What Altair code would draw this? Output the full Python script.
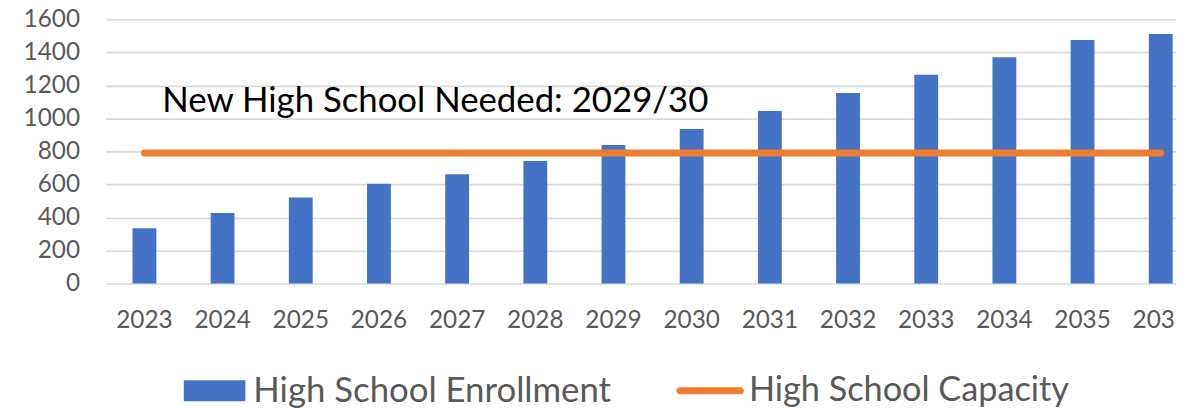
import altair as alt
import pandas as pd

years = ["2023", "2024", "2025", "2026", "2027", "2028", "2029",
         "2030", "2031", "2032", "2033", "2034", "2035", "2036"]
enrollment = [335, 427, 521, 604, 662, 742, 839, 935, 1045, 1154, 1264, 1370, 1475, 1511]
capacity = [790, 790, 790, 790, 790, 790, 790, 790, 790, 790, 790, 790, 790, 790]
y_ticks = [0, 200, 400, 600, 800, 1000, 1200, 1400, 1600]

series_names = ["High School Enrollment", "High School Capacity"]
series_colors = ["#4472C4", "#ED7D31"]

annotation_text = ["New High School Needed: 2029/30"]
annotation_year = ["2023"]
annotation_value = [1036]

df = pd.DataFrame({"year": years, "enrollment": enrollment, "capacity": capacity})
ann = pd.DataFrame({"year": annotation_year, "value": annotation_value, "label": annotation_text})

FONT = "Lato"
GREY = "#595959"

x_scale = alt.Scale(range=[0, 1102], paddingInner=0, paddingOuter=0)
x_axis = alt.Axis(title=None, labelAngle=0, labelFont=FONT, labelFontSize=24.5,
                  labelColor=GREY, labelPadding=25, ticks=False, domain=False,
                  grid=False, labelOverlap=False)
x_enc = alt.X("year:O", sort=years, scale=x_scale, axis=x_axis)

y_scale = alt.Scale(domain=[0, 1600], nice=False)
y_axis = alt.Axis(title=None, values=y_ticks, tickCount=9, format="d", labelFont=FONT,
                  labelFontSize=24.5, labelColor=GREY, labelPadding=26, ticks=False,
                  domain=False, labelOverlap=False, labelBound=False,
                  grid=True, gridColor="#d9d9d9", gridWidth=1.6)

rect_path = "M-1,-0.34L1,-0.34L1,0.34L-1,0.34Z"
line_path = ("M-0.897,-0.103L0.897,-0.103A0.103,0.103 0 0 1 0.897,0.103"
             "L-0.897,0.103A0.103,0.103 0 0 1 -0.897,-0.103Z")

bars = alt.Chart(df).transform_calculate(
    series="'" + series_names[0] + "'"
).mark_bar(size=24).encode(
    x=x_enc,
    y=alt.Y("enrollment:Q", scale=y_scale, axis=y_axis),
    color=alt.Color(
        "series:N",
        scale=alt.Scale(domain=[series_names[0]], range=[series_colors[0]]),
        legend=alt.Legend(
            orient="none", legendX=79, legendY=343, title=None, padding=0,
            symbolType=rect_path, symbolSize=3844, symbolStrokeWidth=0,
            symbolFillColor=series_colors[0],
            labelFont=FONT, labelFontSize=35, labelColor=GREY, labelOffset=8,
            labelLimit=600,
        ),
    ),
)

line = alt.Chart(df).transform_calculate(
    series="'" + series_names[1] + "'"
).mark_line(strokeWidth=7, strokeCap="round").encode(
    x=x_enc,
    y=alt.Y("capacity:Q", scale=y_scale, axis=y_axis),
    color=alt.Color(
        "series:N",
        scale=alt.Scale(domain=[series_names[1]], range=[series_colors[1]]),
        legend=alt.Legend(
            orient="none", legendX=575, legendY=340, title=None, padding=0,
            symbolType=line_path, symbolSize=4624, symbolStrokeWidth=0,
            symbolFillColor=series_colors[1],
            labelFont=FONT, labelFontSize=34.5, labelColor=GREY, labelOffset=5,
            labelLimit=600,
        ),
    ),
)

text = alt.Chart(ann).mark_text(
    align="left", baseline="alphabetic", dx=18, font=FONT, fontSize=35, color="black"
).encode(
    x=x_enc,
    y=alt.Y("value:Q", scale=y_scale, axis=y_axis),
    text="label:N",
)

chart = alt.layer(bars, line, text).resolve_scale(color="independent").properties(
    width=1078,
    height=266,
    autosize=alt.AutoSizeParams(type="none"),
    padding={"left": 98, "top": 10, "right": 0, "bottom": 124},
).configure_view(stroke=None)

chart.save("out.html", embed_options={"renderer": "svg", "actions": False})
